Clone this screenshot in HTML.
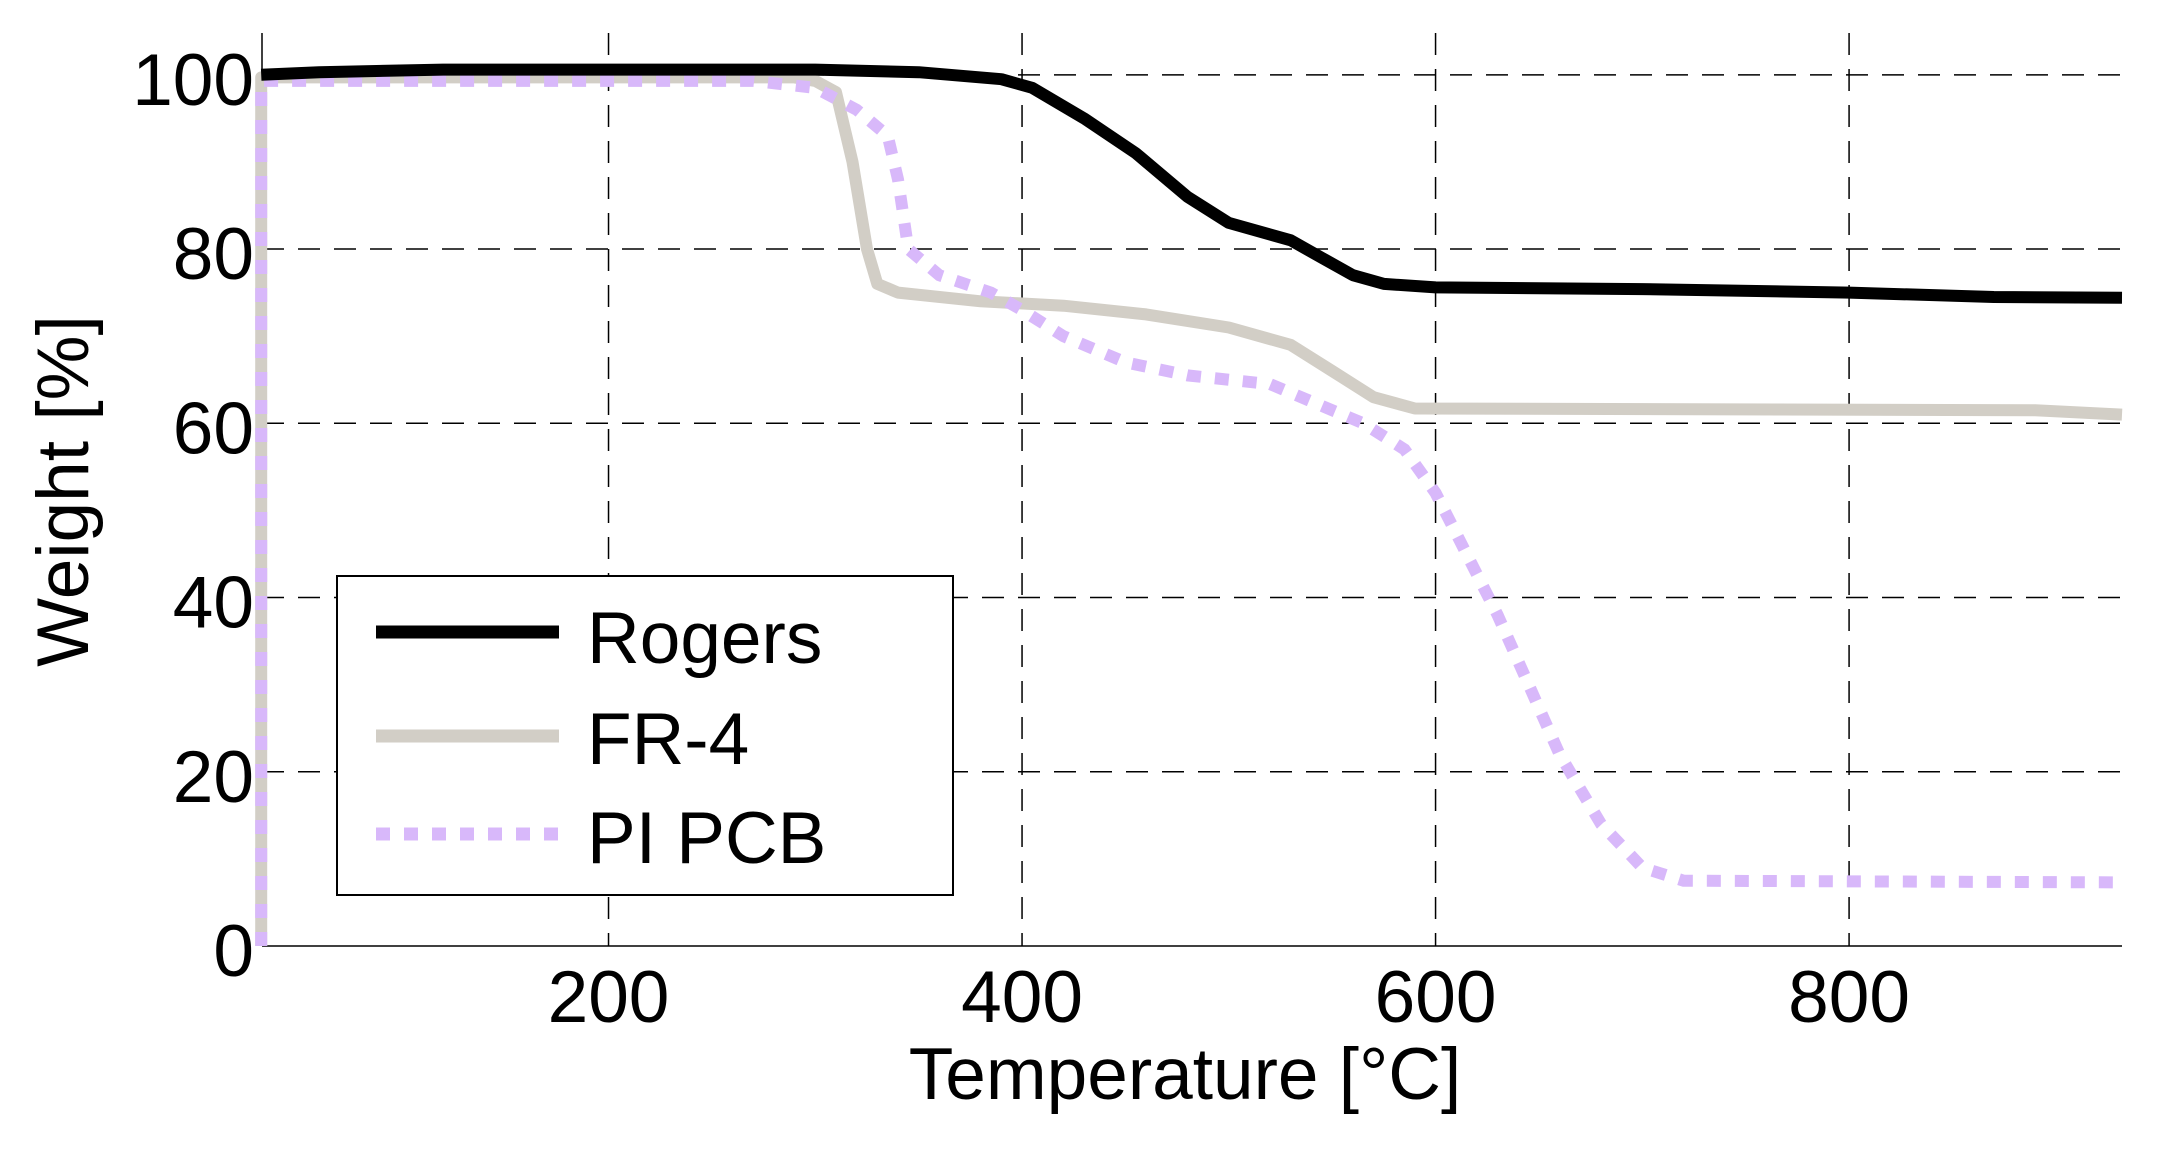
<!DOCTYPE html>
<html><head><meta charset="utf-8"><style>
html,body{margin:0;padding:0;background:#fff}
svg{display:block}
text{font-family:"Liberation Sans",Arial,sans-serif;fill:#000}
</style></head><body>
<svg id="chart" width="2166" height="1157" viewBox="0 0 2166 1157" xmlns="http://www.w3.org/2000/svg">
<g id="grid"></g>
<g id="axes"></g>
<g id="series"></g>
<text x="0" y="0" font-size="73" text-anchor="middle" transform="translate(88,491) rotate(-90)">Weight [%]</text>
<text x="1185" y="1099" font-size="73" text-anchor="middle">Temperature [°C]</text>
<g>
<rect x="337" y="576" width="616" height="319" fill="#fff" stroke="#000" stroke-width="2"/>
<line x1="376" y1="632" x2="559" y2="632" stroke="#000" stroke-width="13"/>
<text x="587" y="663" font-size="73">Rogers</text>
<line x1="376" y1="736" x2="559" y2="736" stroke="#d2cec6" stroke-width="13"/>
<text x="587" y="764" font-size="73">FR-4</text>
<line x1="376" y1="834" x2="559" y2="834" stroke="#d8b8fa" stroke-width="13" stroke-dasharray="14 14"/>
<text x="587" y="863" font-size="73">PI PCB</text>
</g>
</svg>
<script>
const xTicks = [200, 400, 600, 800];
const yTicks = [0, 20, 40, 60, 80, 100];
const rogersT = [32, 60, 120, 300, 350, 390, 405, 430, 455, 480, 500, 530, 545, 560, 575, 600, 700, 800, 870, 932];
const rogersW = [100, 100.3, 100.6, 100.6, 100.3, 99.5, 98.5, 95, 91, 86, 83, 81, 79, 77, 76, 75.6, 75.4, 75, 74.5, 74.4];
const fr4T = [32, 32, 290, 300, 310, 318, 325, 330, 340, 380, 420, 460, 500, 530, 550, 570, 590, 890, 932];
const fr4W = [0, 99.7, 99.7, 99.3, 98, 90, 80, 76, 75, 74, 73.5, 72.5, 71, 69, 66, 63, 61.7, 61.5, 61];
const piT = [32, 32, 270, 300, 320, 335, 340, 345, 360, 385, 400, 420, 450, 480, 520, 545, 565, 585, 600, 615, 630, 645, 660, 680, 700, 720, 932];
const piW = [0, 99.3, 99.3, 98.5, 96, 93, 88, 80, 77, 75, 73, 70, 67, 65.5, 64.5, 62, 60, 57, 52, 45, 38, 30, 22, 14, 9, 7.5, 7.3];

const X0 = 262, X1 = 2122, Y0 = 946, Y1 = 33;
const xMin = 32.4, xMax = 932, yMin = 0, yMax = 104.8;
const sx = v => X0 + (v - xMin) / (xMax - xMin) * (X1 - X0);
const sy = v => Y0 - (v - yMin) / (yMax - yMin) * (Y0 - Y1);
const NS = 'http://www.w3.org/2000/svg';
function mk(tag, parent, attrs) {
  const e = document.createElementNS(NS, tag);
  for (const k in attrs) e.setAttribute(k, attrs[k]);
  parent.appendChild(e);
  return e;
}
const grid = document.getElementById('grid');
const axes = document.getElementById('axes');
const series = document.getElementById('series');

xTicks.forEach(t => {
  const l = mk('line', grid, {x1: sx(t), x2: sx(t), y1: Y1, y2: Y0, stroke: '#000', 'stroke-width': 1.5, 'stroke-dasharray': '22 14'});
  
  
  const tx = mk('text', axes, {x: sx(t), y: 1022, 'font-size': 73, 'text-anchor': 'middle'});
  tx.textContent = t;
  
  
});
yTicks.forEach(t => {
  if (t > 0) {
    const l = mk('line', grid, {x1: X0, x2: X1, y1: sy(t), y2: sy(t), stroke: '#000', 'stroke-width': 1.5, 'stroke-dasharray': '22 14'});
    
    
  }
  const tx = mk('text', axes, {x: 254, y: sy(t) + 30, 'font-size': 73, 'text-anchor': 'end'});
  tx.textContent = t;
  
  
});
const ya = mk('line', axes, {x1: X0, x2: X0, y1: Y1, y2: Y0, stroke: '#000', 'stroke-width': 1.5});


const xa = mk('line', axes, {x1: X0, x2: X1, y1: Y0, y2: Y0, stroke: '#000', 'stroke-width': 1.5});



function pts(T, W) { return T.map((t, i) => sx(t).toFixed(1) + ',' + sy(W[i]).toFixed(1)).join(' '); }
const pf = mk('polyline', series, {points: pts(fr4T, fr4W), fill: 'none', stroke: '#d2cec6', 'stroke-width': 12, 'stroke-linejoin': 'round'});


const pp = mk('polyline', series, {points: pts(piT, piW), fill: 'none', stroke: '#d8b8fa', 'stroke-width': 12, 'stroke-dasharray': '14 14'});


const pr = mk('polyline', series, {points: pts(rogersT, rogersW), fill: 'none', stroke: '#000', 'stroke-width': 12, 'stroke-linejoin': 'round'});


</script>
</body></html>
